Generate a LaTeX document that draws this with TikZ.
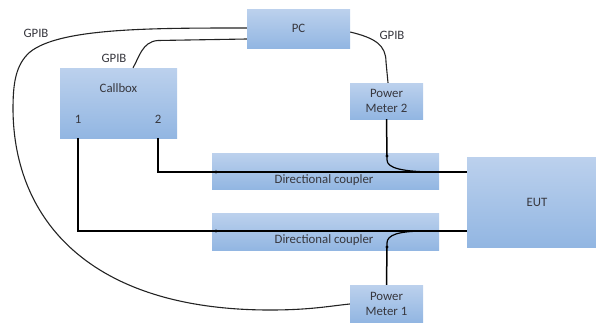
\documentclass[tikz,border=0pt]{standalone}
\usepackage{fontspec}
\setmainfont{Carlito}
\definecolor{boxtop}{RGB}{188,209,237}
\definecolor{boxbot}{RGB}{146,182,226}
\definecolor{txtc}{RGB}{55,55,62}
\definecolor{gpibc}{RGB}{35,35,35}
\begin{document}
\begin{tikzpicture}[x=1pt,y=-1pt,
  box/.style={rectangle, inner sep=0pt, top color=boxtop, bottom color=boxbot, draw=none,
    text=txtc, font=\fontsize{12.8}{15}\selectfont, align=center},
  lbl/.style={text=txtc, font=\fontsize{12.8}{15}\selectfont, inner sep=0pt, anchor=base},
  port/.style={line width=1.5pt, black},
  rf/.style={line width=1.2pt, black},
  gpib/.style={line width=1.1pt, gpibc},
  dot/.style={circle, fill=black, inner sep=0pt, minimum size=3.2pt}]
\useasboundingbox (0,0) rectangle (596,324);
% boxes
\node[box, minimum width=103pt, minimum height=39pt] (pc) at (298.5,28.5) {PC};
\node[box, minimum width=117pt, minimum height=70pt] (cb) at (118.5,103) {};
\node[lbl] (cbt) at (118.5,92) {Callbox};
\node[lbl] (cb1) at (78,123) {1};
\node[lbl] (cb2) at (158,123) {2};
\node[box, minimum width=73pt, minimum height=36pt] (pm2) at (386.5,101) {Power\\Meter 2};
\node[box, minimum width=73pt, minimum height=37pt] (pm1) at (386.5,303.5) {Power\\Meter 1};
\node[box, minimum width=227pt, minimum height=36pt] (dc1) at (325.5,171) {};
\node[box, minimum width=227pt, minimum height=37pt] (dc2) at (325.5,231.5) {};
\node[lbl] (dc1t) at (324,183.3) {Directional coupler};
\node[lbl] (dc2t) at (324,243.5) {Directional coupler};
\node[box, minimum width=129pt, minimum height=90pt] (eut) at (531.5,202) {\hspace*{11pt}EUT};
% dots on couplers
\node[dot] (d1) at (216,172) {};
\node[dot] (d2) at (216,231) {};
\node[dot] (d3) at (387,156) {};
\node[dot] (d4) at (387,247) {};
\coordinate (p1) at ([xshift=18pt]cb.south west);
\coordinate (p2) at ([xshift=98pt]cb.south west);
\coordinate (j1) at (437,172);
\coordinate (j2) at (426,231);
% RF lines
\draw[port] (p2) |- (d1.center);
\draw[port] (d1.center) -- (d1 -| eut.west);
\draw[port] (p1) |- (d2.center);
\draw[port] (d2.center) -- (d2 -| eut.west);
\draw[port] (pm2.south) -- (d3.center);
\draw[rf] (d3.center) -- ++(0,4) .. controls +(0,8) and (402,172) .. (j1);
\draw[port] (pm1.north) -- (d4.center);
\draw[rf] (d4.center) -- ++(0,-4) .. controls +(0,-8) and (398,231) .. (j2);
% GPIB lines
\draw[gpib] ([yshift=-10.5pt]pc.west) -- (158,40.5) .. controls (142,41.5) and (139,58) .. ([xshift=14.5pt]cb.north);
\draw[gpib] ([yshift=-3.5pt]pc.east) .. controls (375,38) and (386,45) .. (386,62) -- ([xshift=1.5pt]pm2.north);
\draw[gpib] ([yshift=0.5pt]pc.west) .. controls (150,28) and (60,28) .. (30,52)
  .. controls (15,65) and (13,85) .. (13,110)
  .. controls (14,220) and (90,310) .. (270,310)
  .. controls (310,310) and (330,306) .. ([yshift=-0.5pt]pm1.west);
\node[lbl] (gl1) at (36,37.3) {GPIB};
\node[lbl] (gl2) at (114,62.5) {GPIB};
\node[lbl] (gl3) at (392,39) {GPIB};
\end{tikzpicture}
\end{document}
